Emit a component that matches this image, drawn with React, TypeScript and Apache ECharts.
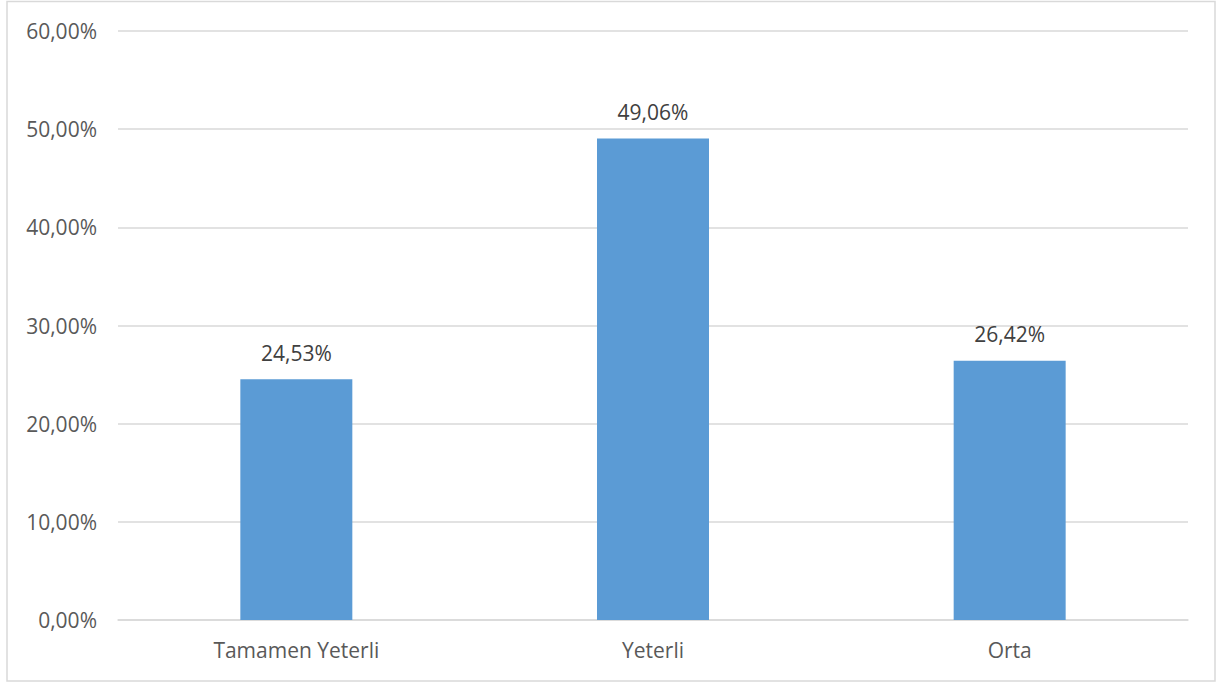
import React, { useEffect, useRef } from "react";
import * as echarts from "echarts";

const categories = ["Tamamen Yeterli", "Yeterli", "Orta"];
const values = [24.53, 49.06, 26.42];

const fmt = (v: number) => v.toFixed(2).replace(".", ",") + "%";
const FONT = "Open Sans";

export default function App() {
  const ref = useRef<HTMLDivElement>(null);
  useEffect(() => {
    const chart = echarts.init(ref.current!, null, { renderer: "svg" });
    chart.setOption({
      animation: false,
      backgroundColor: "#ffffff",
      textStyle: { fontFamily: FONT },
      graphic: [
        {
          type: "rect",
          shape: { x: 7, y: 1.5, width: 1208, height: 679.5 },
          style: { fill: "none", stroke: "#d9d9d9", lineWidth: 1.5 },
          silent: true,
        },
      ],
      grid: { left: 118, right: 29, top: 31, bottom: 64, containLabel: false },
      xAxis: {
        type: "category",
        data: categories,
        axisTick: { show: false },
        axisLine: { show: true, lineStyle: { color: "#d9d9d9", width: 1.5 } },
        axisLabel: { color: "#595959", fontSize: 21, margin: 19, fontFamily: FONT },
      },
      yAxis: {
        type: "value",
        min: 0,
        max: 60,
        interval: 10,
        axisLine: { show: false },
        axisTick: { show: false },
        splitLine: { lineStyle: { color: "#d9d9d9", width: 1.5 } },
        axisLabel: {
          color: "#595959",
          fontSize: 21,
          margin: 21,
          fontFamily: FONT,
          formatter: (v: number) => fmt(v),
        },
      },
      series: [
        {
          type: "bar",
          data: values,
          barWidth: "31.4%",
          itemStyle: { color: "#5b9bd5" },
          label: {
            show: true,
            position: "top",
            distance: 16,
            color: "#404040",
            fontSize: 21,
            fontFamily: FONT,
            formatter: (p: any) => fmt(p.value),
          },
        },
      ],
    });
    return () => chart.dispose();
  }, []);
  return (
    <div
      ref={ref}
      style={{ position: "fixed", left: 0, top: 0, width: 1217, height: 684 }}
    />
  );
}
